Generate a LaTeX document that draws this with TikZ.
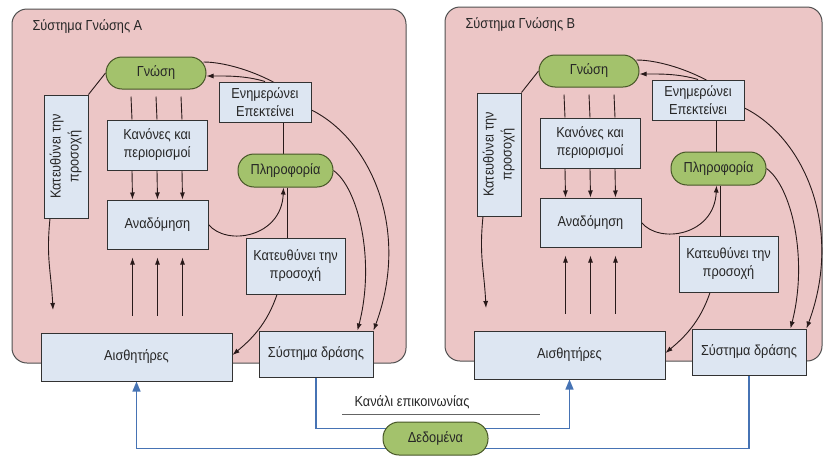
\documentclass[tikz,border=0pt]{standalone}
\usepackage{fontspec}
\setmainfont{Liberation Sans}[FakeStretch=0.88]
\usepackage{graphicx}
\usetikzlibrary{arrows.meta,calc}
\definecolor{panelfill}{RGB}{236,198,198}
\definecolor{paneldraw}{RGB}{80,80,80}
\definecolor{boxfill}{RGB}{221,230,242}
\definecolor{boxdraw}{RGB}{50,50,50}
\definecolor{greenfill}{RGB}{163,194,108}
\definecolor{greendraw}{RGB}{70,85,38}
\definecolor{linecol}{RGB}{40,25,25}
\definecolor{bluecol}{RGB}{70,115,180}
\definecolor{chan}{RGB}{100,100,100}
\pgfdeclarelayer{back}
\pgfdeclarelayer{mid}
\pgfsetlayers{back,mid,main}
\tikzset{
 txt/.style={font=\fontsize{14.5}{18}\selectfont, text=black!85},
 kbox/.style={txt, draw=boxdraw, fill=boxfill, line width=1pt, inner sep=0pt, align=center},
 pill/.style={txt, draw=greendraw, fill=greenfill, line width=1pt, inner sep=0pt, rounded corners=16pt, align=center},
 panel/.style={draw=paneldraw, fill=panelfill, line width=1pt, rounded corners=15pt},
 conn/.style={draw=linecol, line width=0.9pt},
 arr/.style={conn, -{Latex[length=7pt,width=5pt]}},
 bline/.style={draw=bluecol, line width=1.3pt},
 barr/.style={bline, -{Triangle[length=10pt,width=8pt]}},
}
% #1 prefix, #2 dx, #3 dy, #4 title, #5 right edge of panel
\newcommand\kpanel[5]{%
 \begin{pgfonlayer}{back}
  \path[panel] ({12+#2},{9+#3}) rectangle (#5,{363+#3});
 \end{pgfonlayer}
 \node[txt, anchor=west] (#1title) at ({29+#2},{27+#3}) {#4};
 \node[pill, minimum width=100pt, minimum height=32pt] (#1gn) at ({156+#2},{73+#3}) {Γνώση};
 \node[kbox, minimum width=100pt, minimum height=50pt] (#1kan) at ({157+#2},{145+#3}) {Κανόνες και\\περιορισμοί};
 \node[kbox, minimum width=101pt, minimum height=49pt] (#1ana) at ({157.5+#2},{224.5+#3}) {Αναδόμηση};
 \node[kbox, minimum width=44pt, minimum height=123pt] (#1kv) at ({66+#2},{156.5+#3})
   {\rotatebox{90}{\begin{tabular}{@{}c@{}}Κατευθύνει την\\προσοχή\end{tabular}}};
 \node[kbox, minimum width=92pt, minimum height=40pt] (#1en) at ({265+#2},{102+#3}) {Ενημερώνει\\Επεκτείνει};
 \node[pill, minimum width=95pt, minimum height=33pt] (#1pl) at ({285.5+#2},{170.5+#3}) {Πληροφορία};
 \node[kbox, minimum width=99pt, minimum height=56pt] (#1kr) at ({295.5+#2},{266+#3}) {Κατευθύνει την\\προσοχή};
 \node[kbox, minimum width=191pt, minimum height=48pt] (#1ai) at ({136.5+#2},{357+#3}) {Αισθητήρες};
 \node[kbox, minimum width=114pt, minimum height=46pt] (#1sd) at ({316+#2},{354+#3}) {Σύστημα δράσης};
 \coordinate (#1kvend) at ({53+#2},{310+#3});
 \begin{pgfonlayer}{mid}
  \draw[conn] (#1gn.west) -- (#1kv.north east);
  \draw[arr] ([xshift=-16pt]#1kv.south) .. controls +(-4,40) and +(-2,-40) .. (#1kvend);
  \foreach \o in {-25,0,25}{
   \draw[conn] ([xshift=\o pt,yshift=-7pt]#1gn.south) -- ([xshift=\o pt]#1kan.north);
   \draw[arr] ([xshift=\o pt]#1kan.south) -- ([xshift=\o pt]#1ana.north);
   \draw[arr] ([xshift=\o pt,yshift=-66pt]#1ana.south) -- ([xshift=\o pt,yshift=-8pt]#1ana.south);
  }
  \draw[arr] (#1ana.east) .. controls +(18,22) and +(-2,50) .. ([xshift=-2pt]#1pl.south);
  \draw[conn] ([xshift=-2pt]#1pl.north) -- ([xshift=18.5pt]#1en.south);
  \draw[arr] (#1en.north) .. controls +(-20,-6) and +(20,0) .. ([yshift=-3pt]#1gn.east);
  \draw[arr] ([xshift=-3pt,yshift=11pt]#1gn.east) .. controls +(27,0) and +(-31,-32) .. ([yshift=-8pt]#1en.east)
     .. controls +(60,30) and +(37,-100) .. (#1sd.north east);
  \draw[arr] (#1pl.east) .. controls +(25,18) and +(18,-70) .. ([xshift=-16pt]#1sd.north east);
  \draw[conn] ([xshift=1.5pt]#1pl.south) -- ([xshift=-8.5pt]#1kr.north);
  \draw[arr] ([xshift=-18.5pt]#1kr.south) .. controls +(-10,30) and +(18,-15) .. ([yshift=2pt]#1ai.east);
 \end{pgfonlayer}
}
\begin{document}
\begin{tikzpicture}[x=1pt,y=-1pt]
 \useasboundingbox (0,0) rectangle (825,461);
 \kpanel{A}{0}{0}{Σύστημα Γνώσης A}{406}
 \kpanel{B}{433}{-2}{Σύστημα Γνώσης B}{822}
 \node[pill, minimum width=105pt, minimum height=33pt] (dd) at (435.5,438.5) {Δεδομένα};
 \node[txt] (chlabel) at (412,402) {Κανάλι επικοινωνίας};
 \coordinate (ch1) at (342,414);
 \coordinate (ch2) at (540,414);
 \draw[draw=chan, line width=0.9pt] (ch1) -- (ch2);
 \begin{pgfonlayer}{mid}
  \draw[bline] (Asd.south) |- ([yshift=10pt]dd.center);
  \draw[barr] ([yshift=-10pt]dd.center) -| (Aai.south);
  \draw[barr] ([yshift=10pt]dd.center) -| (Bai.south);
  \draw[bline] (Bsd.south) |- ([yshift=-10pt]dd.center);
 \end{pgfonlayer}
\end{tikzpicture}
\end{document}
